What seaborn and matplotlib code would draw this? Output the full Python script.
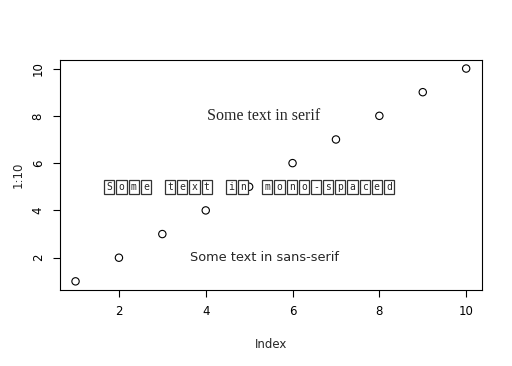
import numpy as np
import pandas as pd
import matplotlib
matplotlib.use("Agg")
import matplotlib.pyplot as plt
import seaborn as sns

# data: plot(1:10)
index = [1, 2, 3, 4, 5, 6, 7, 8, 9, 10]
values = [1, 2, 3, 4, 5, 6, 7, 8, 9, 10]
x_ticks = [2, 4, 6, 8, 10]
y_ticks = [2, 4, 6, 8, 10]

serif_label = "Some text in serif"
sans_label = "Some text in sans-serif"
mono_label = "Some text in mono-spaced"

df = pd.DataFrame({"Index": index, "1:10": values})

sns.set_theme(style="white")
plt.rcParams["font.family"] = ["DejaVu Sans"]

fig = plt.figure(figsize=(5.12, 3.66), dpi=100)
ax = fig.add_axes([0.117, 0.208, 0.824, 0.628])

sns.scatterplot(data=df, x="Index", y="1:10", ax=ax, s=28,
                facecolors="none", edgecolor="black", linewidth=0.8, legend=False)

ax.set_xlim(0.64, 10.36)
ax.set_ylim(0.64, 10.36)
ax.set_xticks(x_ticks)
ax.set_yticks(y_ticks)
ax.tick_params(axis="both", direction="out", length=5, width=0.8, color="black",
               labelsize=8.5, labelcolor="black", pad=6, bottom=True, left=True)
for lab in ax.get_yticklabels():
    lab.set_rotation(90)
    lab.set_va("center")
for sp in ax.spines.values():
    sp.set_color("black")
    sp.set_linewidth(0.8)

ax.set_xlabel("Index", fontsize=8.5, labelpad=14)
ax.set_ylabel("1:10", fontsize=8.5, labelpad=5)

# annotations in different families
ax.text(5.33, 8, serif_label, family="Liberation Serif", fontsize=11.5,
        ha="center", va="center")
ax.text(5.35, 2, sans_label, family="DejaVu Sans", fontsize=9.3,
        ha="center", va="center")

# mono text drawn char by char in small boxes (missing-glyph look)
n = len(mono_label)
for i, ch in enumerate(mono_label):
    if ch == " ":
        continue
    ax.annotate(ch, xy=(5, 5), xytext=((i - (n - 1) / 2) * 8.75, 0),
                textcoords="offset points", ha="center", va="center",
                family="DejaVu Sans Mono", fontsize=7,
                bbox=dict(boxstyle="square,pad=0.22", fc="white", ec="#333333", lw=0.9))

fig.savefig("out.png", dpi=100)
